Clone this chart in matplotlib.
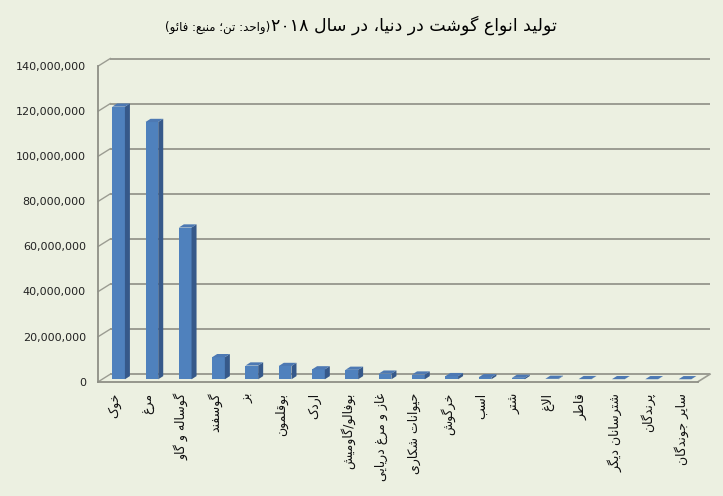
import numpy as np
import matplotlib
matplotlib.use('Agg')
import matplotlib.pyplot as plt

plt.rcParams['font.family'] = ['DejaVu Sans']

categories = ['خوک', 'مرغ', 'گوساله و گاو', 'گوسفند', 'بز', 'بوقلمون', 'اردک',
              'بوفالو/گاومیش', 'غاز و مرغ دریایی', 'حیوانات شکاری', 'خرگوش', 'اسب',
              'شتر', 'الاغ', 'قاطر', 'شترسانان دیگر', 'پرندگان', 'سایر جوندگان']
production = [120_900_000, 114_100_000, 67_300_000, 9_800_000, 6_100_000, 5_900_000,
              4_400_000, 4_200_000, 2_500_000, 2_100_000, 1_400_000, 900_000,
              650_000, 200_000, 80_000, 50_000, 30_000, 20_000]
y_ticks = list(range(0, 140_000_001, 20_000_000))
title_main = 'تولید انواع گوشت در دنیا، در سال ۲۰۱۸'
title_unit = '(واحد: تن؛ منبع: فائو)'

# --- minimal arabic/persian shaping (no raqm in matplotlib) ---
DUAL = {
    'ئ': 0xFE89, 'ب': 0xFE8F, 'ت': 0xFE95, 'ث': 0xFE99, 'ج': 0xFE9D, 'ح': 0xFEA1,
    'خ': 0xFEA5, 'س': 0xFEB1, 'ش': 0xFEB5, 'ص': 0xFEB9, 'ض': 0xFEBD, 'ط': 0xFEC1,
    'ظ': 0xFEC5, 'ع': 0xFEC9, 'غ': 0xFECD, 'ف': 0xFED1, 'ق': 0xFED5, 'ل': 0xFEDD,
    'م': 0xFEE1, 'ن': 0xFEE5, 'ه': 0xFEE9, 'ي': 0xFEF1,
    'پ': 0xFB56, 'چ': 0xFB7A, 'ک': 0xFB8E, 'گ': 0xFB92, 'ی': 0xFBFC,
}
RIGHT = {
    'ا': 0xFE8D, 'آ': 0xFE81, 'أ': 0xFE83, 'ؤ': 0xFE85, 'إ': 0xFE87, 'د': 0xFEA9,
    'ذ': 0xFEAB, 'ر': 0xFEAD, 'ز': 0xFEAF, 'و': 0xFEED, 'ژ': 0xFB8A,
}
LAM_ALEF = {'ا': 0xFEFB, 'آ': 0xFEF5, 'أ': 0xFEF7, 'إ': 0xFEF9}
DIGITS = set('0123456789۰۱۲۳۴۵۶۷۸۹')


def shape(text):
    toks = []
    i = 0
    while i < len(text):
        c = text[i]
        if c == 'ل' and i + 1 < len(text) and text[i + 1] in LAM_ALEF:
            toks.append(('R', LAM_ALEF[text[i + 1]]))
            i += 2
            continue
        if c in DUAL:
            toks.append(('D', DUAL[c]))
        elif c in RIGHT:
            toks.append(('R', RIGHT[c]))
        else:
            toks.append(('U', c))
        i += 1
    glyphs = []
    for k, (kind, base) in enumerate(toks):
        if kind == 'U':
            glyphs.append(base)
            continue
        prev = k > 0 and toks[k - 1][0] == 'D'
        nxt = kind == 'D' and k + 1 < len(toks) and toks[k + 1][0] in ('D', 'R')
        if kind == 'R':
            off = 1 if prev else 0
        else:
            off = 3 if (prev and nxt) else 1 if prev else 2 if nxt else 0
        glyphs.append(chr(base + off))
    # visual order: reverse, mirror brackets, keep digit runs left-to-right
    glyphs = glyphs[::-1]
    mirror = {'(': ')', ')': '('}
    glyphs = [mirror.get(g, g) for g in glyphs]
    out, run = [], []
    for g in glyphs:
        if g in DIGITS:
            run.append(g)
        else:
            out.extend(run[::-1])
            run = []
            out.append(g)
    out.extend(run[::-1])
    return ''.join(out)


BG = '#ECF0E1'
GRID = '#9B9C92'
FRONT = '#4F81BD'
SIDE = '#36598A'
TOP = '#4D79B3'

W, H = 723, 496
left_px, right_px, bot_px, top_px = 98.3, 698, 381.7, 66

fig = plt.figure(figsize=(W / 100, H / 100), dpi=100, facecolor=BG)
ax = fig.add_axes([left_px / W, 1 - bot_px / H, (right_px - left_px) / W, (bot_px - top_px) / H])
ax.set_facecolor('none')
n = len(categories)
ax.set_xlim(-0.5, n - 0.5)
ax.set_ylim(0, 140_000_000)

px_x = (right_px - left_px) / n
px_y = (bot_px - top_px) / 140_000_000


def ddx(px):
    return px / px_x


def ddy(px):
    return px / px_y


wall_dx, wall_dy = ddx(12), ddy(7.5)

# back wall gridlines and left wall
ax.hlines([t + wall_dy for t in y_ticks], -0.5 + wall_dx, n - 0.5 + wall_dx,
          color=GRID, lw=1.4, clip_on=False, zorder=1)
for t in y_ticks:
    ax.plot([-0.5, -0.5 + wall_dx], [t, t + wall_dy], color=GRID, lw=1.0,
            clip_on=False, zorder=1)
ax.plot([n - 0.5, n - 0.5 + wall_dx], [0, wall_dy], color=GRID, lw=1.2,
        clip_on=False, zorder=1)

# 3d-looking columns
x = np.arange(n)
bw = ddx(12.7)
bdx, bdy = ddx(3.6), ddy(2.4)
sdx, sdy = ddx(5), ddy(3.2)
ax.bar(x + bdx, production, width=bw, bottom=bdy, color=FRONT, zorder=3)
for xi, v in zip(x, production):
    xl = xi + bdx - bw / 2
    xr = xi + bdx + bw / 2
    ax.fill([xr, xr + sdx, xr + sdx, xr], [bdy, bdy + sdy, bdy + sdy + v, bdy + v],
            color=SIDE, zorder=3, lw=0, clip_on=False)
    ax.fill([xl, xr, xr + sdx, xl + sdx], [bdy + v, bdy + v, bdy + v + sdy, bdy + v + sdy],
            color=TOP, zorder=3, lw=0, clip_on=False)

for s in ['top', 'right']:
    ax.spines[s].set_visible(False)
for s in ['left', 'bottom']:
    ax.spines[s].set_color('#8E8F86')
    ax.spines[s].set_linewidth(1.3)

ax.set_yticks(y_ticks)
ax.set_yticklabels([f'{t:,}' for t in y_ticks])
ax.tick_params(axis='y', length=0, pad=9, labelsize=8, labelcolor='#222222')
ax.set_xticks(x)
ax.set_xticklabels([shape(c) for c in categories], rotation=90, fontsize=9)
ax.tick_params(axis='x', length=0, pad=8, labelcolor='#111111')

# title: big part on the right, unit/source smaller on the left
ty = 1 - 31 / H
t_main = fig.text(0, ty, shape(title_main), fontsize=12.5, ha='left', va='baseline')
t_unit = fig.text(0, ty, shape(title_unit), fontsize=8.5, ha='left', va='baseline')
r = fig.canvas.get_renderer()
w_main = t_main.get_window_extent(r).width
w_unit = t_unit.get_window_extent(r).width
start = 361 - (w_main + w_unit) / 2
t_unit.set_x(start / W)
t_main.set_x((start + w_unit) / W)

fig.savefig('out.png', dpi=100, facecolor=BG)
